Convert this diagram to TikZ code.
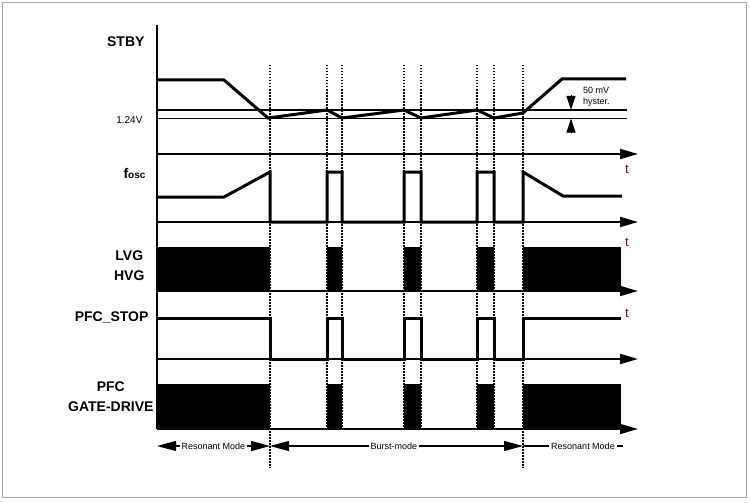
\documentclass[tikz,border=0pt]{standalone}
\usepackage{fontspec}
\setmainfont{Liberation Sans}
\usepackage{xcolor}
\usetikzlibrary{arrows.meta}
\definecolor{tred}{RGB}{85,20,30}

\begin{document}
\begin{tikzpicture}[x=1pt,y=-1pt,
  wave/.style={line width=3pt,line join=miter},
  axis/.style={line width=2pt,-{Triangle[length=18pt,width=10pt]}},
  thres/.style={line width=1.4pt},
  guide/.style={line width=1.5pt,dash pattern=on 1.5pt off 1.5pt},
  burst/.style={fill=black},
  sig/.style={anchor=east,align=center,font=\bfseries\fontsize{14}{20}\selectfont},
  tlbl/.style={text=tred,font=\fontsize{13}{15}\selectfont},
  modeline/.style={line width=1.1pt,{Triangle[length=19pt,width=10pt]}-{Triangle[length=19pt,width=10pt]}},
  modetxt/.style={fill=white,inner sep=2pt,font=\fontsize{9}{11}\selectfont}]
\useasboundingbox (0,0) rectangle (750,503);
\draw[gray!70,line width=1.2pt] (2.5,2.5) rectangle (746.5,497.5);

\draw[guide] (270,65)--(270,468);
\draw[guide] (327,65)--(327,429);
\draw[guide] (342,65)--(342,429);
\draw[guide] (404,65)--(404,429);
\draw[guide] (421,65)--(421,429);
\draw[guide] (477,65)--(477,429);
\draw[guide] (494,65)--(494,429);
\draw[guide] (523,65)--(523,468);

\draw[line width=2pt] (157,25)--(157,429);
\draw[axis] (157,154)--(638,154);
\draw[axis] (157,222)--(638,222);
\draw[axis] (157,291)--(638,291);
\draw[axis] (157,359)--(638,359);
\draw[axis] (157,429)--(638,429);

\draw[thres] (157,110)--(627,110);
\draw[thres] (157,118.5)--(627,118.5);

\draw[wave] (157,80)--(224,80)--(268,118)--(327,110)--(342,118)--(404,110)--(421,118)--(477,110)--(494,118)--(523,113)--(562,79)--(626,79);

\draw[wave] (157,197)--(224,197)--(270,172)--(270,222)--(327,222)--(327,172)--(342,172)--(342,222)--(404,222)--(404,172)--(421,172)--(421,222)--(477,222)--(477,172)--(494,172)--(494,222)--(523,222)--(523,172)--(563,196)--(622,196);

\fill[burst] (157,247) rectangle (270,291);
\fill[burst] (327,247) rectangle (342,291);
\fill[burst] (404,247) rectangle (421,291);
\fill[burst] (477,247) rectangle (494,291);
\fill[burst] (523,247) rectangle (621,291);

\draw[wave] (157,318)--(270,318)--(270,359)--(327,359)--(327,318)--(342,318)--(342,359)--(404,359)--(404,318)--(421,318)--(421,359)--(477,359)--(477,318)--(494,318)--(494,359)--(523,359)--(523,318)--(621,318);

\fill[burst] (157,384) rectangle (270,429);
\fill[burst] (327,384) rectangle (342,429);
\fill[burst] (404,384) rectangle (421,429);
\fill[burst] (477,384) rectangle (494,429);
\fill[burst] (523,384) rectangle (621,429);

\draw[line width=1pt,-{Triangle[length=14pt,width=9pt]}] (571,95)--(571,110);
\draw[line width=1pt,-{Triangle[length=14pt,width=9pt]}] (571,133)--(571,118.5);
\node[anchor=west,align=left,inner sep=0pt,font=\fontsize{9}{11}\selectfont] (hyst) at (583,97) {50 mV\\hyster.};

\node[sig] (stby) at (148,42) {STBY};
\node[anchor=east,font=\fontsize{10}{12}\selectfont] (vref) at (146,120) {1.24V};
\node[sig] (fosc) at (149,173) {f\fontsize{10}{12}\selectfont osc};
\node[sig] (gates) at (148,266) {LVG\\HVG};
\node[sig] (pfcstop) at (152,317) {PFC\_STOP};
\node[sig] (pfcdrive) at (157,397) {PFC\\GATE-DRIVE};

\node[tlbl] (t1) at (627,169) {t};
\node[tlbl] (t2) at (627,242) {t};
\node[tlbl] (t3) at (627,313) {t};

\coordinate (m0) at (157,446);
\coordinate (m1) at (270,446);
\coordinate (m2) at (523,446);
\coordinate (m3) at (623,446);
\draw[modeline] (m0)-- node[modetxt] (resL) {Resonant Mode} (m1);
\draw[modeline] (m1)-- node[modetxt,pos=0.49] (burst) {Burst-mode} (m2);
\draw[modeline,-] (m2)-- node[modetxt,pos=0.6] (resR) {Resonant Mode} (m3);
\end{tikzpicture}
\end{document}
